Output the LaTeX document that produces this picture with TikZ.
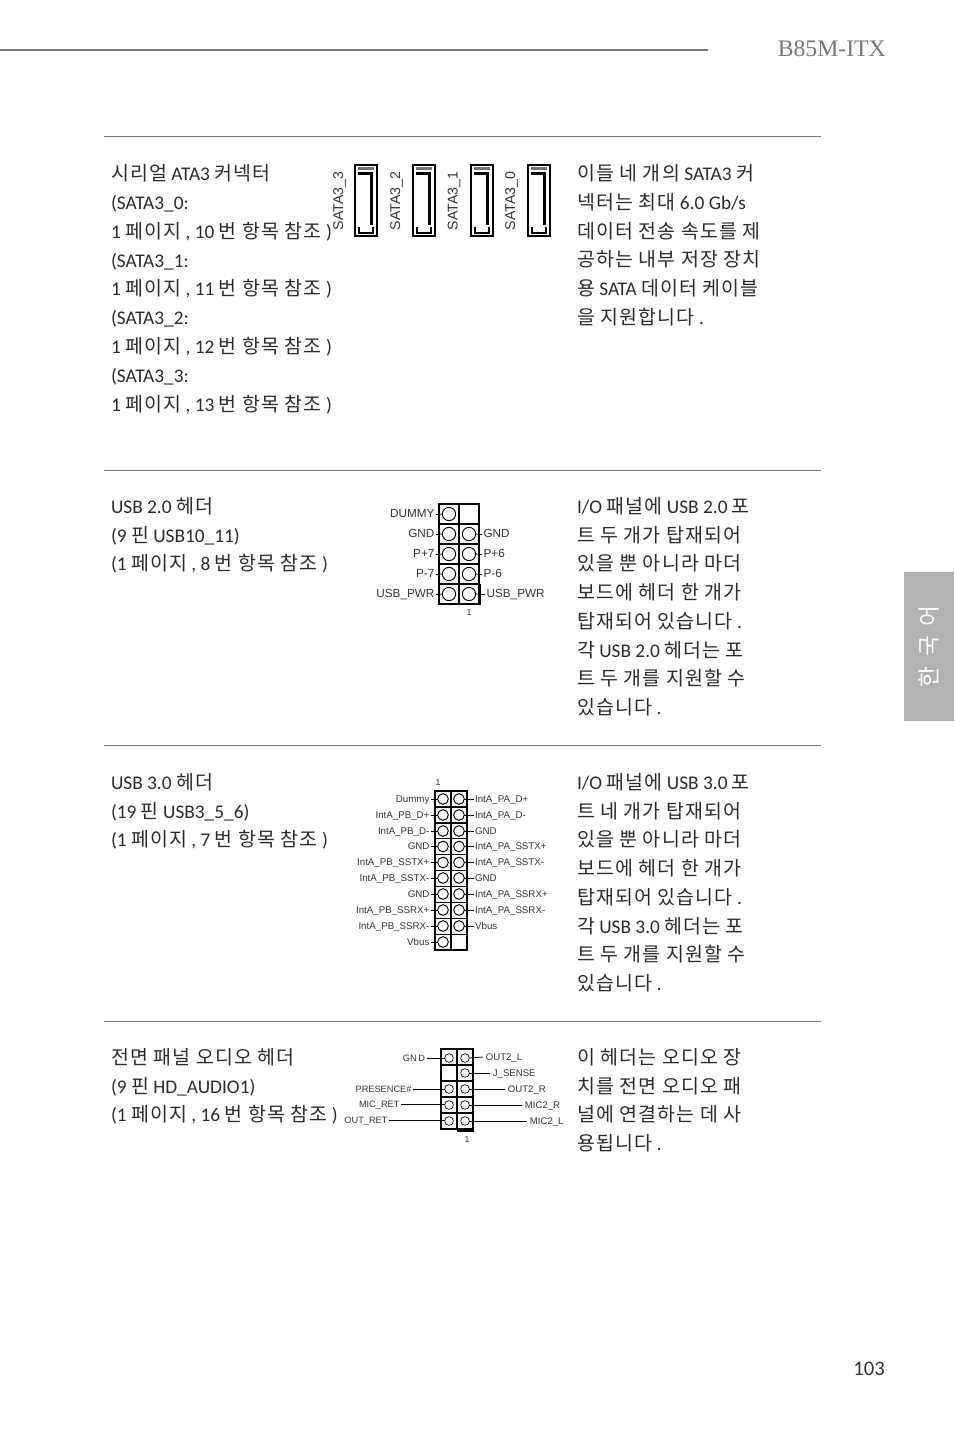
\documentclass[tikz,border=0pt]{standalone}
\usepackage{fontspec}
\setmainfont{Carlito}
\newfontfamily\krf[LetterSpace=6]{Noto Sans CJK KR}
\newfontfamily\krtab{Noto Sans CJK KR}
\newfontfamily\arialf{Liberation Sans}
\newfontfamily\timesf{Liberation Serif}
\newcommand{\K}[1]{\raisebox{-0.7pt}{\krf\fontsize{14.6}{18}\selectfont #1}}
\definecolor{bodyc}{HTML}{2B2B2B}
\definecolor{rulec}{HTML}{777777}
\definecolor{labc}{HTML}{333333}
\tikzset{
  body/.style={anchor=base west,inner sep=0pt,outer sep=0pt,text=bodyc,font=\fontsize{14.5}{18}\selectfont},
  secline/.style={draw=rulec,line width=0.75pt},
  pin/.style={circle,draw=black,line width=0.7pt,inner sep=0pt,outer sep=0pt,fill=white},
  gridl/.style={draw=black,line width=0.8pt},
  gridb/.style={draw=black,line width=2pt},
  stub/.style={draw=black,line width=0.6pt},
  lab/.style={inner xsep=1.2pt,inner ysep=0pt,outer sep=0pt,text=labc,text height=5.5pt,text depth=1pt},
  usbtwo/.style={lab,font=\arialf\fontsize{8.8}{10}\selectfont},
  usbthree/.style={lab,font=\arialf\fontsize{7.3}{9}\selectfont},
  audiol/.style={lab,font=\arialf\fontsize{6.9}{9}\selectfont},
  audior/.style={lab,inner xsep=2.2pt,font=\arialf\fontsize{7.2}{9}\selectfont},
  sata/.style={anchor=center,inner sep=0pt,rotate=90,text=labc,font=\arialf\fontsize{10.6}{12}\selectfont},
}
\begin{document}
\begin{tikzpicture}[x=0.75pt,y=-0.75pt]
\useasboundingbox (0,0) rectangle (954,1432);
% header
\draw[draw=rulec,line width=1.5pt] (0,50) -- (708,50);
\node[anchor=base west,inner sep=0pt,text=rulec,font=\timesf\fontsize{17.8}{20}\selectfont] (title) at (777.5,56.5) {B85M-ITX};
\node[anchor=base east,inner sep=0pt,text=labc,font=\fontsize{15.5}{18}\selectfont] (pageno) at (885,1375) {103};
% side tab
\fill[fill=black!30] (904,572) rectangle (954,721);
\node[rotate=90,inner sep=0pt,text=white,font=\krtab\fontsize{17}{18}\selectfont] (tabtext) at (929,646.5) {한\hspace{7.5pt}국\hspace{7.5pt}어};
% section rules
\draw[secline] (104,136) -- (821,136);
\draw[secline] (104,470) -- (821,470);
\draw[secline] (104,745) -- (821,745);
\draw[secline] (104,1021) -- (821,1021);
% section 1 left
\node[body] (a1) at (111,180) {\K{시리얼} ATA3 \K{커넥터}};
\node[body] (a2) at (111,209) {(SATA3\_0:};
\node[body] (a3) at (111,238) {1 \K{페이지} , 10 \K{번 항목 참조} )};
\node[body] (a4) at (111,267) {(SATA3\_1:};
\node[body] (a5) at (111,295) {1 \K{페이지} , 11 \K{번 항목 참조} )};
\node[body] (a6) at (111,324) {(SATA3\_2:};
\node[body] (a7) at (111,353) {1 \K{페이지} , 12 \K{번 항목 참조} )};
\node[body] (a8) at (111,382) {(SATA3\_3:};
\node[body] (a9) at (111,411) {1 \K{페이지} , 13 \K{번 항목 참조} )};
% section 1 right
\node[body] (b1) at (577,180) {\K{이들 네 개의} SATA3 \K{커}};
\node[body] (b2) at (577,209) {\K{넥터는 최대} 6.0 Gb/s};
\node[body] (b3) at (577,238) {\K{데이터 전송 속도를 제}};
\node[body] (b4) at (577,266) {\K{공하는 내부 저장 장치}};
\node[body] (b5) at (577,295) {\K{용} SATA \K{데이터 케이블}};
\node[body] (b6) at (577,324) {\K{을 지원합니다} .};
% SATA connectors
\foreach \nm/\xo/\lx/\lt in {s3/354/339.5/SATA3\_3,s2/412/396.5/SATA3\_2,s1/470/454/SATA3\_1,s0/527/511.5/SATA3\_0}{
  \begin{scope}[shift={(\xo,164)}]
    \draw[black,line width=2pt] (1,1) rectangle (23,72);
    \draw[black!55,line width=2pt] (4,4.8) -- (20,4.8);
    \draw[black,line width=1.6pt] (4,9.5) -- (17.5,9.5) -- (17.5,61);
    \draw[black,line width=1.6pt] (5,63) -- (5,69) -- (19,69) -- (19,63);
  \end{scope}
  \node[sata] (lab\nm) at (\lx,201) {\lt};
}
% section 2 left
\node[body] (c1) at (111,513) {USB 2.0 \K{헤더}};
\node[body] (c2) at (111,542) {(9 \K{핀} USB10\_11)};
\node[body] (c3) at (111,570) {(1 \K{페이지} , 8 \K{번 항목 참조} )};
% section 2 right
\node[body] (d1) at (577,513) {I/O \K{패널에} USB 2.0 \K{포}};
\node[body] (d2) at (577,542) {\K{트 두 개가 탑재되어}};
\node[body] (d3) at (577,570) {\K{있을 뿐 아니라 마더}};
\node[body] (d4) at (577,599) {\K{보드에 헤더 한 개가}};
\node[body] (d5) at (577,628) {\K{탑재되어 있습니다} .};
\node[body] (d6) at (577,657) {\K{각} USB 2.0 \K{헤더는 포}};
\node[body] (d7) at (577,685) {\K{트 두 개를 지원할 수}};
\node[body] (d8) at (577,714) {\K{있습니다} .};
% USB 2.0 header
\draw[gridl] (439,504) rectangle (479,604);
\draw[gridl] (459,504) -- (459,604);
\foreach \y in {524,544,564,584}{\draw[gridl] (439,\y) -- (479,\y);}
\draw[gridb] (459,584) -- (459,604) -- (479.5,604) -- (479.5,584);
\foreach \nm/\y in {a/514,b/534,c/554,d/574,e/594}{
  \node[pin,minimum size=10pt] (ul\nm) at (449,\y) {};
}
\foreach \nm/\y in {b/534,c/554,d/574,e/594}{
  \node[pin,minimum size=10pt] (ur\nm) at (469,\y) {};
}
\foreach \nm/\y/\t in {a/514/DUMMY,b/534/GND,c/554/P+7,d/574/P-7,e/594/USB\_PWR}{
  \node[usbtwo,anchor=east] (utl\nm) at (436,\y+0.6) {\t};
  \draw[stub] (utl\nm.east) -- (ul\nm.west);
}
\foreach \nm/\xx/\y/\t in {b/482/534/GND,c/482/554/P+6,d/482/574/P-6,e/485/594/USB\_PWR}{
  \node[usbtwo,anchor=west] (utr\nm) at (\xx,\y+0.6) {\t};
  \draw[stub] (ur\nm.east) -- (utr\nm.west);
}
\node[inner sep=0pt,text=labc,font=\arialf\fontsize{6.5}{8}\selectfont] (utone) at (469,613) {1};
% section 3 left
\node[body] (e1) at (111,789) {USB 3.0 \K{헤더}};
\node[body] (e2) at (111,818) {(19 \K{핀} USB3\_5\_6)};
\node[body] (e3) at (111,846) {(1 \K{페이지} , 7 \K{번 항목 참조} )};
% section 3 right
\node[body] (f1) at (577,789) {I/O \K{패널에} USB 3.0 \K{포}};
\node[body] (f2) at (577,818) {\K{트 네 개가 탑재되어}};
\node[body] (f3) at (577,846) {\K{있을 뿐 아니라 마더}};
\node[body] (f4) at (577,875) {\K{보드에 헤더 한 개가}};
\node[body] (f5) at (577,904) {\K{탑재되어 있습니다} .};
\node[body] (f6) at (577,933) {\K{각} USB 3.0 \K{헤더는 포}};
\node[body] (f7) at (577,961) {\K{트 두 개를 지원할 수}};
\node[body] (f8) at (577,990) {\K{있습니다} .};
% USB 3.0 header
\draw[gridl] (435,791) rectangle (467,950);
\draw[gridl] (451,791) -- (451,950);
\foreach \y in {807,823,838.7,854.6,870.5,886.4,902.3,918.2,934.1}{\draw[gridl] (435,\y) -- (467,\y);}
\draw[gridb] (435,807) -- (435,791) -- (450,791);
\draw[draw=black,line width=1.2pt] (435,870.5) -- (467,870.5);
\foreach \nm/\y/\t in {a/799/Dummy,b/815/IntA\_PB\_D+,c/831/IntA\_PB\_D-,d/846.5/GND,e/862.5/IntA\_PB\_SSTX+,f/878/IntA\_PB\_SSTX-,g/894/GND,h/910/IntA\_PB\_SSRX+,i/926/IntA\_PB\_SSRX-,j/942/Vbus}{
  \node[pin,minimum size=8pt] (vl\nm) at (443,\y) {};
  \node[usbthree,anchor=east] (vtl\nm) at (431,\y) {\t};
  \draw[stub] (vtl\nm.east) -- (vl\nm.west);
}
\foreach \nm/\y/\t in {a/799/IntA\_PA\_D+,b/815/IntA\_PA\_D-,c/831/GND,d/846.5/IntA\_PA\_SSTX+,e/862.5/IntA\_PA\_SSTX-,f/878/GND,g/894/IntA\_PA\_SSRX+,h/910/IntA\_PA\_SSRX-,i/926/Vbus}{
  \node[pin,minimum size=8pt] (vr\nm) at (459,\y) {};
  \node[usbthree,anchor=west] (vtr\nm) at (473.5,\y) {\t};
  \draw[stub] (vr\nm.east) -- (vtr\nm.west);
}
\node[inner sep=0pt,text=labc,font=\arialf\fontsize{6.5}{8}\selectfont] (vtone) at (438,783) {1};
% section 4 left
\node[body] (g1) at (111,1064) {\K{전면 패널 오디오 헤더}};
\node[body] (g2) at (111,1093) {(9 \K{핀} HD\_AUDIO1)};
\node[body] (g3) at (111,1121) {(1 \K{페이지} , 16 \K{번 항목 참조} )};
% section 4 right
\node[body] (h1) at (577,1064) {\K{이 헤더는 오디오 장}};
\node[body] (h2) at (577,1093) {\K{치를 전면 오디오 패}};
\node[body] (h3) at (577,1121) {\K{널에 연결하는 데 사}};
\node[body] (h4) at (577,1150) {\K{용됩니다} .};
% audio header
\draw[gridl] (441,1049) rectangle (473,1129);
\draw[gridl] (457,1049) -- (457,1129);
\foreach \y in {1065,1081,1097,1113}{\draw[gridl] (441,\y) -- (473,\y);}
\draw[draw=black,line width=1.4pt] (441,1097) -- (457,1097);
\draw[draw=black,line width=1.4pt] (441,1113) -- (457,1113);
\fill[black] (457,1129) rectangle (474,1132);
\fill[black] (472,1113) rectangle (474,1132);
\foreach \nm/\y in {a/1058,c/1089,d/1105,e/1121}{\node[pin,minimum size=6.5pt,line width=0.5pt] (al\nm) at (449,\y) {};}
\foreach \nm/\y in {a/1058,b/1073,c/1089,d/1105,e/1121}{\node[pin,minimum size=6.5pt,line width=0.5pt] (ar\nm) at (465,\y) {};}
\foreach \nm/\xx/\y/\t in {a/426.5/1058/GN\,D,c/413/1089/PRESENCE\#,d/401/1104/MIC\_RET,e/389/1120/OUT\_RET}{
  \node[audiol,anchor=east] (atl\nm) at (\xx,\y) {\t};
  \draw[stub] (atl\nm.east) -- (al\nm.west |- atl\nm.east) -- (al\nm.west);
}
\foreach \nm/\xx/\y/\t in {a/483/1057/OUT2\_L,b/490/1073/J\_SENSE,c/505/1089/OUT2\_R,d/522/1105/MIC2\_R,e/527/1121/MIC2\_L}{
  \node[audior,anchor=west] (atr\nm) at (\xx,\y) {\t};
  \draw[stub] (ar\nm.east) -- (atr\nm.west);
}
\node[inner sep=0pt,text=labc,font=\arialf\fontsize{6.5}{8}\selectfont] (atone) at (467,1140) {1};
\end{tikzpicture}
\end{document}
